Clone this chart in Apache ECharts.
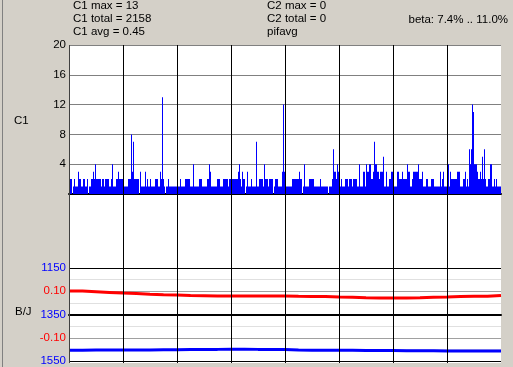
<!DOCTYPE html>
<html><head><meta charset="utf-8">
<script src="https://cdn.jsdelivr.net/npm/echarts@6.0.0/dist/echarts.min.js"></script>
<style>html,body{margin:0;padding:0;background:#D4D0C8;overflow:hidden}#c{width:513px;height:367px}</style>
</head><body><div id="c"></div><script>
// C1 counts per pixel column
const c1Values = [
2,2,2,0,1,2,1,1,1,3, 2,2,1,1,2,2,1,1,2,0, 1,1,2,2,3,2,4,2,2,2, 2,2,1,2,2,1,2,2,2,2,
1,1,2,4,1,1,1,2,2,3, 2,2,2,2,2,1,1,1,1,2, 2,2,8,3,7,2,2,2,2,2, 0,3,1,1,1,1,3,1,2,1,
1,2,1,1,1,1,2,2,2,1, 1,3,2,13,2,1,0,1,1,2, 1,1,1,1,1,1,1,1,1,1, 1,2,1,1,1,1,2,2,2,2,
2,1,1,1,4,1,1,1,1,1, 2,2,2,1,1,1,1,1,2,2, 4,3,1,1,1,1,1,1,2,2, 2,1,1,1,2,2,2,2,2,1,
2,2,1,2,2,2,2,2,2,3, 4,2,1,3,2,2,0,1,3,1, 1,1,2,1,1,1,1,7,1,1, 2,2,2,2,1,4,2,2,2,1,
2,2,2,2,0,1,2,2,2,1, 1,1,1,3,12,3,2,1,1,1, 1,1,1,2,2,2,2,2,2,2, 3,2,2,0,1,4,1,1,1,1,
2,2,2,2,2,1,1,1,1,1, 1,2,1,1,1,1,1,1,1,0, 1,1,1,2,6,3,3,2,4,3, 1,1,2,1,1,1,2,2,2,1,
2,2,2,1,2,2,2,2,1,1, 4,1,1,1,3,3,1,4,3,3, 4,4,2,2,3,7,4,4,3,3, 2,3,3,3,5,1,1,3,1,1,
2,2,3,3,1,1,1,1,3,3, 2,2,2,3,2,2,2,2,4,3, 3,1,1,2,3,3,3,3,3,4, 2,2,2,3,1,1,1,2,2,1,
1,1,2,2,2,1,1,1,1,1, 1,3,1,2,3,1,1,1,4,4, 1,3,2,2,2,2,2,2,3,3, 3,1,1,1,2,2,3,1,2,1,
6,4,6,12,11,4,4,4,3,2, 2,3,2,5,2,6,2,1,1,2, 2,4,4,1,1,2,1,2,1,1, 1,1
];
const c1Categories = c1Values.map((v, i) => String(i));
const c1TickLabels = ['4', '8', '12', '16', '20'];

// B/J panel: red (left scale) and blue (inverted scale), sampled every quarter division
const redValues = [0.101,0.101,0.098,0.095,0.092,0.090,0.087,0.085,0.084,0.082,0.081,0.080,0.080,0.080,0.080,0.080,0.080,
  0.078,0.077,0.077,0.075,0.074,0.072,0.071,0.071,0.071,0.072,0.074,0.075,0.077,0.078,0.078,0.082];
const blueValues = [1504,1504,1503,1503,1503,1503,1503,1502,1502,1501,1500,1500,1499,1499,1500,1500,1501,
  1503,1504,1504,1504,1504,1505,1505,1505,1506,1506,1506,1507,1507,1507,1507,1507];
const lineCategories = redValues.map((v, i) => String(i));
const redTickLabels = ['0.10', '-0.10'];
const blueTickLabels = ['1150', '1350', '1550'];

const headerLeft = ['C1 max = 13', 'C1 total = 2158', 'C1 avg = 0.45'];
const headerMid = ['C2 max = 0', 'C2 total = 0', 'pifavg'];
const headerRight = 'beta: 7.4% .. 11.0%';

const FONT = 'Liberation Sans, Arial, sans-serif';
const FS = 11.5;

const chart = echarts.init(document.getElementById('c'), null, {renderer: 'canvas'});

const graphics = [
  {type: 'rect', shape: {x: 69, y: 45, width: 432, height: 318}, style: {fill: '#ffffff'}, z: -100, silent: true},
  {type: 'rect', shape: {x: 2, y: 0, width: 1, height: 367}, style: {fill: '#808080'}, z: -100, silent: true},
  {type: 'text', x: 14, y: 121, style: {text: 'C1', fill: '#000', font: FS + 'px ' + FONT, textVerticalAlign: 'middle'}},
  {type: 'text', x: 15, y: 312, style: {text: 'B/J', fill: '#000', font: FS + 'px ' + FONT, textVerticalAlign: 'middle'}},
  {type: 'text', x: 508, y: 19.5, style: {text: headerRight, fill: '#000', font: FS + 'px ' + FONT, textAlign: 'right', textVerticalAlign: 'middle'}}
];
headerLeft.forEach((t, i) => graphics.push({type: 'text', x: 73, y: 6.3 + i * 13, style: {text: t, fill: '#000', font: FS + 'px ' + FONT, textVerticalAlign: 'middle'}}));
headerMid.forEach((t, i) => graphics.push({type: 'text', x: 267, y: 6.3 + i * 13, style: {text: t, fill: '#000', font: FS + 'px ' + FONT, textVerticalAlign: 'middle'}}));

const near = (a, b) => Math.abs(a - b) < 1e-6;

chart.setOption({
  animation: false,
  backgroundColor: '#D4D0C8',
  graphic: graphics,
  grid: [
    {left: 69, top: 45, width: 432, height: 149},
    {left: 69, top: 268, width: 432, height: 93},
    {left: 69, top: 45, width: 432, height: 318}
  ],
  xAxis: [
    {gridIndex: 0, type: 'category', data: c1Categories, boundaryGap: true,
     axisLine: {show: true, lineStyle: {color: '#000', width: 2}}, axisTick: {show: false}, axisLabel: {show: false}, splitLine: {show: false}},
    {gridIndex: 1, type: 'category', data: lineCategories, boundaryGap: false, position: 'top',
     axisLine: {show: true, lineStyle: {color: '#000', width: 2}}, axisTick: {show: false}, axisLabel: {show: false}, splitLine: {show: false}},
    {gridIndex: 2, type: 'value', min: 0, max: 8, interval: 1, z: 10,
     axisLine: {show: false}, axisTick: {show: false}, axisLabel: {show: false},
     splitLine: {show: true, lineStyle: {width: 1, color: ['#404040', '#000', '#000', '#000', '#000', '#000', '#000', '#000', 'rgba(0,0,0,0)']}}}
  ],
  yAxis: [
    {gridIndex: 0, type: 'value', min: 0, max: 20, interval: 4, position: 'left',
     axisLine: {show: false}, axisTick: {show: false},
     axisLabel: {margin: 3, color: '#000', fontFamily: FONT, fontSize: FS,
       formatter: v => c1TickLabels.indexOf(String(v)) >= 0 ? String(v) : ''},
     splitLine: {show: true, lineStyle: {color: '#808080', width: 1}}},
    {gridIndex: 1, type: 'value', min: -0.2, max: 0.2, interval: 0.05, position: 'left',
     axisLine: {show: false}, axisTick: {show: false},
     axisLabel: {margin: 3, color: '#ff0000', fontFamily: FONT, fontSize: FS,
       formatter: v => near(v, 0.1) ? redTickLabels[0] : (near(v, -0.1) ? redTickLabels[1] : '')},
     splitLine: {show: true, lineStyle: {width: 1,
       color: ['#000', '#e0e0e0', '#a0a0a0', '#e0e0e0', '#000', '#e0e0e0', '#a0a0a0', '#e0e0e0', '#000']}}},
    {gridIndex: 1, type: 'value', min: 1150, max: 1550, interval: 50, inverse: true, position: 'left', offset: 0,
     axisLine: {show: false, onZero: false}, axisTick: {show: false}, splitLine: {show: false},
     axisLabel: {margin: 3, color: '#0000ff', fontFamily: FONT, fontSize: FS,
       formatter: v => blueTickLabels.indexOf(String(v)) >= 0 ? String(v) : ''}},
    {gridIndex: 2, type: 'value', show: false, min: 0, max: 1, splitLine: {show: false}}
  ],
  series: [
    {type: 'bar', xAxisIndex: 0, yAxisIndex: 0, data: c1Values, barWidth: 1, barGap: '0%', barCategoryGap: '0%',
     large: true, largeThreshold: 100,
     itemStyle: {color: '#0000ff'}, silent: true},
    {type: 'line', xAxisIndex: 1, yAxisIndex: 1, data: redValues, symbol: 'none',
     lineStyle: {color: '#ff0000', width: 3}, silent: true},
    {type: 'line', xAxisIndex: 1, yAxisIndex: 2, data: blueValues, symbol: 'none',
     lineStyle: {color: '#0000ff', width: 3}, silent: true}
  ]
});
</script></body></html>
